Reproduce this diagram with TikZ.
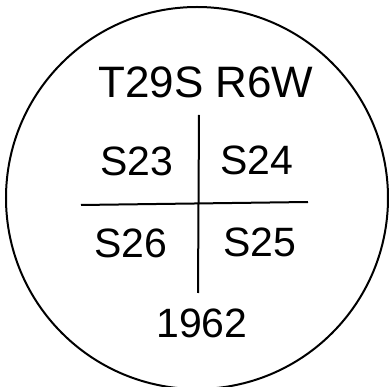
\documentclass[tikz,border=0pt]{standalone}
\usepackage{fontspec}
\setmainfont{Liberation Sans}
\begin{document}
\begin{tikzpicture}[x=1pt,y=-1pt,
  lbl/.style={font=\fontsize{41}{41}\selectfont, inner sep=0pt, anchor=center},
  pen/.style={line width=2pt, black}]
\useasboundingbox (0,0) rectangle (389,387);
\draw[pen] (197,198) circle (191);
\coordinate (vt) at (199,115);
\coordinate (vb) at (198,293);
\coordinate (hl) at (81,205);
\coordinate (hr) at (308,202);
\draw[pen] (vt) -- (vb);
\draw[pen] (hl) -- (hr);
\node[lbl, font=\fontsize{44}{44}\selectfont] (title) at (206,82) {T29S R6W};
\node[lbl] (s23) at (137,161) {S23};
\node[lbl] (s24) at (257,160) {S24};
\node[lbl] (s26) at (131,243) {S26};
\node[lbl] (s25) at (260,242) {S25};
\node[lbl] (year) at (202,323) {1962};
\end{tikzpicture}
\end{document}
